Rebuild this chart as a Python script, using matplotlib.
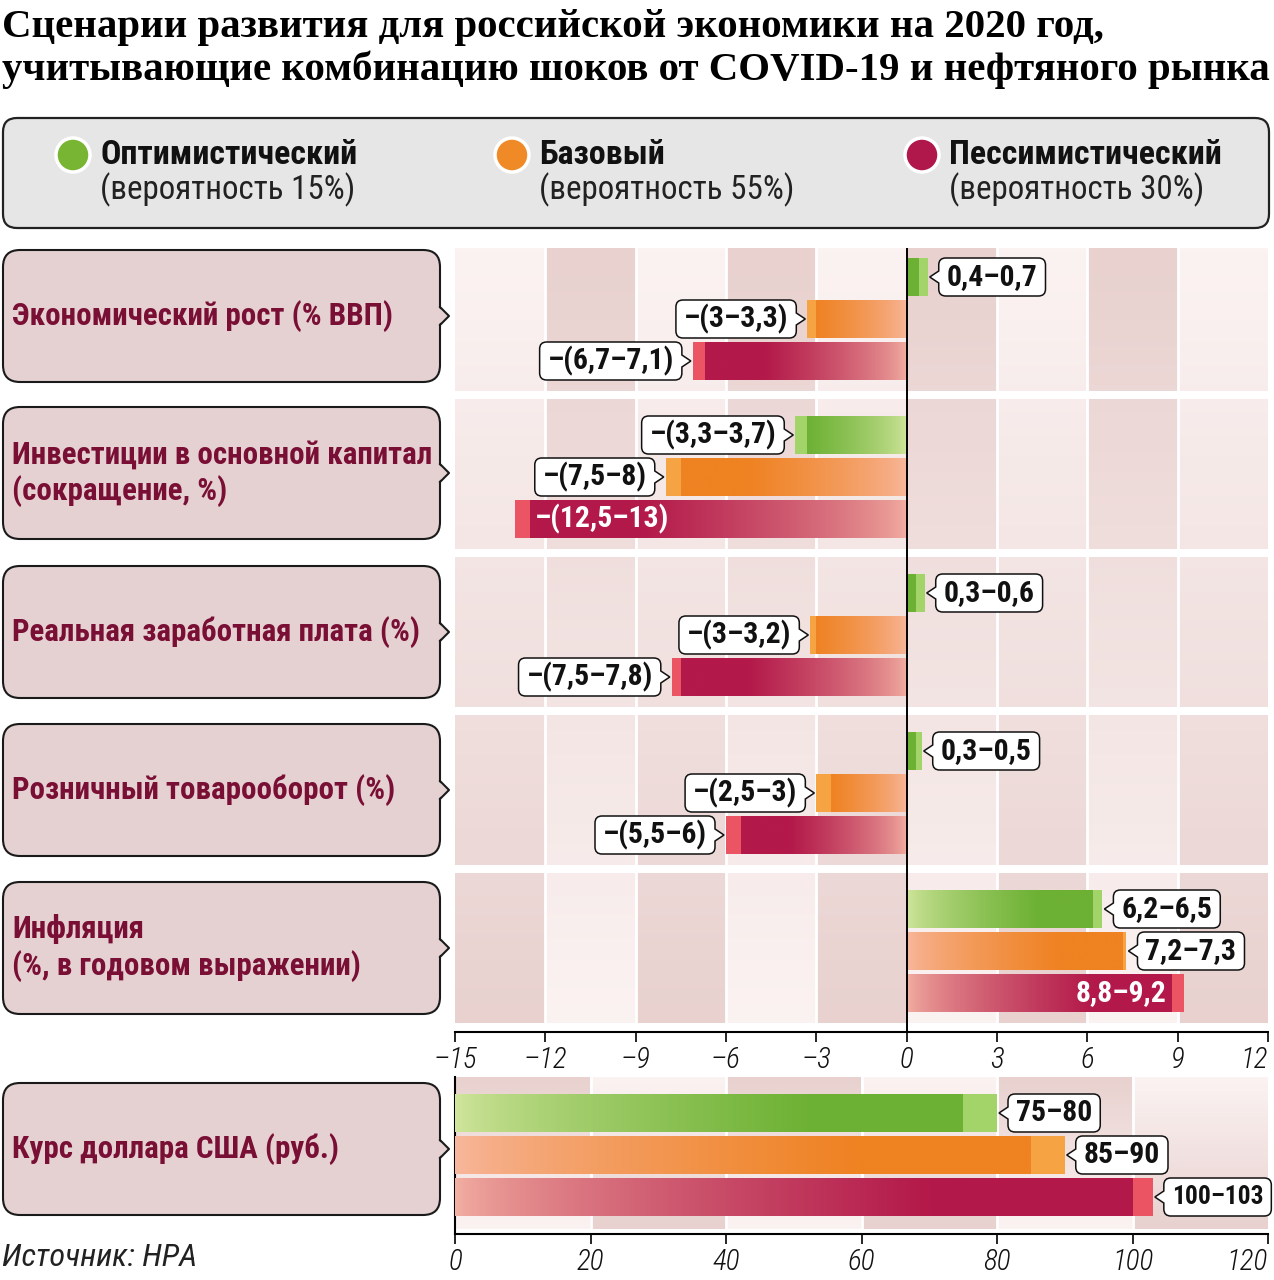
import matplotlib
matplotlib.use("Agg")
import matplotlib.pyplot as plt
import numpy as np
from matplotlib import font_manager as fm
from matplotlib.patches import FancyBboxPatch, Polygon, Circle
from matplotlib.path import Path
from matplotlib.colors import to_rgb, LinearSegmentedColormap

# ---- шрифты: ищем узкий, иначе Roboto ----
names = {f.name for f in fm.fontManager.ttflist}
NARROW, STRETCH = None, "normal"
for c in ["Liberation Sans Narrow", "Roboto Condensed", "Open Sans Condensed",
          "Noto Sans Condensed", "PT Sans Narrow", "Arial Narrow"]:
    if c in names:
        NARROW = c
        break
if NARROW is None:
    for fam in ["Noto Sans", "Roboto", "Open Sans", "DejaVu Sans"]:
        if any(f.name == fam and f.stretch in ("condensed", "semi-condensed")
               for f in fm.fontManager.ttflist):
            NARROW, STRETCH = fam, "condensed"
            break
if NARROW is None:
    NARROW = "Roboto" if "Roboto" in names else "DejaVu Sans"
SERIF = "Liberation Serif" if "Liberation Serif" in names else "DejaVu Serif"

# ---- данные ----
title1 = "Сценарии развития для российской экономики на 2020 год,"
title2 = "учитывающие комбинацию шоков от COVID-19 и нефтяного рынка"
scenarios = ["Оптимистический", "Базовый", "Пессимистический"]
probabilities = ["(вероятность 15%)", "(вероятность 55%)", "(вероятность 30%)"]
categories = ["Экономический рост (% ВВП)",
              "Инвестиции в основной капитал\n(сокращение, %)",
              "Реальная заработная плата (%)",
              "Розничный товарооборот (%)",
              "Инфляция\n(%, в годовом выражении)"]
usd_category = "Курс доллара США (руб.)"

opt_lo = [0.4, -3.3, 0.3, 0.3, 6.2]
opt_hi = [0.7, -3.7, 0.6, 0.5, 6.5]
base_lo = [-3, -7.5, -3, -2.5, 7.2]
base_hi = [-3.3, -8, -3.2, -3, 7.3]
pess_lo = [-6.7, -12.5, -7.5, -5.5, 8.8]
pess_hi = [-7.1, -13, -7.8, -6, 9.2]
opt_labels = ["0,4–0,7", "–(3,3–3,7)", "0,3–0,6", "0,3–0,5", "6,2–6,5"]
base_labels = ["–(3–3,3)", "–(7,5–8)", "–(3–3,2)", "–(2,5–3)", "7,2–7,3"]
pess_labels = ["–(6,7–7,1)", "–(12,5–13)", "–(7,5–7,8)", "–(5,5–6)", "8,8–9,2"]
pess_inside = [False, True, False, False, True]

usd_lo = [75, 85, 100]
usd_hi = [80, 90, 103]
usd_labels = ["75–80", "85–90", "100–103"]

main_ticks = [-15, -12, -9, -6, -3, 0, 3, 6, 9, 12]
usd_ticks = [0, 20, 40, 60, 80, 100, 120]
source = "Источник: НРА"

# ---- оформление ----
W, H = 1274, 1280
light = [to_rgb("#d2e69e"), to_rgb("#f8b89f"), to_rgb("#f3b1a3")]
dark = [to_rgb("#6db134"), to_rgb("#ef8222"), to_rgb("#b3194a")]
tips = ["#a2d46a", "#f6a443", "#eb5563"]
dots = ["#78b532", "#f08a26", "#b0174a"]
bg_cmap = LinearSegmentedColormap.from_list("bgc", ["#fbf3f2", "#e8d1cf"])
maroon = "#7a0f35"
bar_off = [36, 78, 120]
bar_h = 38

fig = plt.figure(figsize=(W / 100, H / 100), dpi=100)
rend = fig.canvas.get_renderer()


def fit(s, target, base=20, **kw):
    # размер шрифта, при котором строка s имеет ширину target пикселей
    t = fig.text(0, 0, s, fontsize=base, **kw)
    w = t.get_window_extent(rend).width
    t.remove()
    return base * target / w


NB = dict(fontfamily=NARROW, fontstretch=STRETCH, fontweight="bold")
NR = dict(fontfamily=NARROW, fontstretch=STRETCH)
TS = fit(title2, 1266, 30, fontfamily=SERIF, fontweight="bold")
CAT = fit("Инвестиции в основной капитал", 420, **NB)
LEGB = fit("Оптимистический", 257, **NB)
LEGR = fit("(вероятность 15%)", 255, **NR)
CAL = fit("–(3–3,3)", 104, **NB)
TICK = min(21, fit("–12", 44, style="italic", **NR))
SRC = fit(source, 195, style="italic", **NR)


def px_axes(z):
    a = fig.add_axes([0, 0, 1, 1], zorder=z)
    a.set_xlim(0, W)
    a.set_ylim(H, 0)
    a.axis("off")
    a.patch.set_alpha(0)
    return a


bg = px_axes(0)

bg.text(2, 27, title1, fontfamily=SERIF, fontweight="bold", fontsize=TS,
        va="center", ha="left")
bg.text(2, 70, title2, fontfamily=SERIF, fontweight="bold", fontsize=TS,
        va="center", ha="left")

# легенда
bg.add_patch(FancyBboxPatch((3, 118), 1266, 110,
                            boxstyle="round,pad=0,rounding_size=14",
                            fc="#e6e6e6", ec="#222222", lw=1.6))
for k, x in enumerate([73, 512, 922]):
    bg.add_patch(Circle((x, 155), 17, fc=dots[k], ec="white", lw=2.5))
    bg.text(x + 27, 155, scenarios[k], fontsize=LEGB, va="center", ha="left",
            color="#111111", **NB)
    bg.text(x + 27, 190, probabilities[k], fontsize=LEGR, va="center",
            ha="left", color="#222222", **NR)

# подписи категорий
box_tops = [250, 407, 566, 724, 882, 1083]
for j, name in enumerate(categories + [usd_category]):
    t0 = box_tops[j]
    yc = t0 + 66
    bg.add_patch(FancyBboxPatch((3, t0), 437, 132,
                                boxstyle="round,pad=0,rounding_size=17",
                                fc="#e5d1d2", ec="#1a1a1a", lw=1.5))
    bg.add_patch(Polygon([(438, yc - 9), (449, yc), (438, yc + 9)],
                         closed=True, fc="#e5d1d2", ec="none"))
    bg.plot([440, 449, 440], [yc - 9, yc, yc + 9], color="#1a1a1a", lw=1.5)
    lines = name.split("\n")
    for n, line in enumerate(lines):
        dy = (n - (len(lines) - 1) / 2) * 37
        bg.text(12, yc + dy, line, fontsize=CAT, color=maroon, va="center",
                ha="left", **NB)

bg.text(2, 1258, source, style="italic", fontsize=SRC, va="center", ha="left",
        color="#222222", **NR)

PADX, TAIL, GAP = 8, 9, 2
callouts = []


def callout_style(side):
    # рамка выноски со скруглёнными углами и хвостиком к столбику
    def style(x0, y0, width, height, mutation_size):
        cy = y0 + height / 2
        hh = bar_h / 2
        a, b = x0 - PADX, x0 + width + PADX
        lo, hi = cy - hh, cy + hh
        r = 7
        v, c = [], []

        def mv(p):
            v.append(p)
            c.append(Path.MOVETO)

        def ln(p):
            v.append(p)
            c.append(Path.LINETO)

        def q(p1, p2):
            v.extend([p1, p2])
            c.extend([Path.CURVE3, Path.CURVE3])

        mv((a + r, lo))
        ln((b - r, lo))
        q((b, lo), (b, lo + r))
        if side > 0:
            ln((b, cy - 6))
            ln((b + TAIL, cy))
            ln((b, cy + 6))
        ln((b, hi - r))
        q((b, hi), (b - r, hi))
        ln((a + r, hi))
        q((a, hi), (a, hi - r))
        if side < 0:
            ln((a, cy + 6))
            ln((a - TAIL, cy))
            ln((a, cy - 6))
        ln((a, lo + r))
        q((a, lo), (a + r, lo))
        v.append((a + r, lo))
        c.append(Path.CLOSEPOLY)
        return Path(v, c)
    return style


def grad_bar(ax, lo, hi, yc, k, scale):
    L = abs(lo)
    n = 300
    u = np.linspace(0, 1, n)
    if L * scale >= 1.0:
        fade = 0.7 if L * scale >= 4 else 1.0
        f = np.clip(u / fade, 0, 1) ** 0.7
    else:
        f = np.ones(n)
    cols = np.array(light[k])[None, :] + (np.array(dark[k]) - np.array(light[k]))[None, :] * f[:, None]
    if lo < 0:
        cols = cols[::-1]
        ext = (lo, 0, yc + bar_h / 2, yc - bar_h / 2)
    else:
        ext = (0, lo, yc + bar_h / 2, yc - bar_h / 2)
    ax.imshow(cols[None, :, :], extent=ext, aspect="auto",
              interpolation="bilinear", zorder=3)
    ax.barh(yc, hi - lo, left=lo, height=bar_h, color=tips[k], zorder=3,
            linewidth=0)


def callout(ax, x, yc, text, side):
    # side=+1: рамка слева от конца столбика, хвостик вправо
    t = ax.annotate(text, xy=(x, yc), xytext=(-(GAP + TAIL + PADX) * side, 0),
                    textcoords="offset pixels", va="center",
                    ha="right" if side > 0 else "left",
                    fontsize=CAL, color="#111111", zorder=6,
                    bbox=dict(boxstyle=callout_style(side), fc="white",
                              ec="#111111", lw=1.1), **NB)
    callouts.append((t, ax, x, side))


def inside(ax, x, yc, text, side):
    # side=+1: текст правее начала кончика (отрицательный столбик)
    ax.annotate(text, xy=(x, yc), xytext=(5 * side, 0),
                textcoords="offset pixels", va="center",
                ha="left" if side > 0 else "right",
                fontsize=CAL, color="white", zorder=6, **NB)


def shade(ax, x0, x1, y0, y1, ncol, odd_dark_top):
    s = np.linspace(0, 1, 200)[:, None]
    c = np.arange(ncol)[None, :]
    d = np.where((c % 2 == 1) == odd_dark_top, 1 - s, s)
    ax.imshow(d, extent=(x0, x1, y1, y0), cmap=bg_cmap, vmin=0, vmax=1,
              aspect="auto", interpolation="nearest", zorder=0)


def style_axis(ax, ticks, labels):
    for sp in ["top", "right", "left"]:
        ax.spines[sp].set_visible(False)
    ax.spines["bottom"].set_linewidth(1.5)
    ax.set_xticks(ticks)
    ax.set_xticklabels(labels)
    ax.set_yticks([])
    ax.tick_params(axis="x", length=7, width=1.2, pad=3)
    labs = ax.get_xticklabels()
    for lab in labs:
        lab.set_fontfamily(NARROW)
        lab.set_fontstretch(STRETCH)
        lab.set_fontweight("light")
        lab.set_style("italic")
        lab.set_fontsize(TICK)
        lab.set_color("#111111")
    labs[-1].set_horizontalalignment("right")


# ---- основная панель ----
ax = fig.add_axes([455 / W, 1 - 1032 / H, 813 / W, 784 / H], zorder=1)
shade(ax, -15, 12, 248, 1032, 9, True)
group_tops = [241 + 158 * i for i in range(5)]
for i in range(4):
    ax.axhspan(group_tops[i] + 150, group_tops[i + 1], color="white", zorder=0.5, lw=0)
ax.axhspan(group_tops[4] + 150, 1032, color="white", zorder=0.5, lw=0)
for t in main_ticks[1:-1]:
    if t != 0:
        ax.axvline(t, color="white", lw=2, zorder=0.6)
ax.axvline(0, color="black", lw=1.4, zorder=4)

series = [(opt_lo, opt_hi, opt_labels), (base_lo, base_hi, base_labels),
          (pess_lo, pess_hi, pess_labels)]
for i in range(5):
    for k, (lo, hi, lab) in enumerate(series):
        yc = group_tops[i] + bar_off[k]
        grad_bar(ax, lo[i], hi[i], yc, k, 1.0)
        side = 1 if hi[i] < 0 else -1
        if k == 2 and pess_inside[i]:
            inside(ax, lo[i], yc, lab[i], side)
        else:
            callout(ax, hi[i], yc, lab[i], side)

ax.set_xlim(-15, 12)
ax.set_ylim(1032, 248)
style_axis(ax, main_ticks, [str(t).replace("-", "–") for t in main_ticks])

# ---- курс доллара ----
ax2 = fig.add_axes([455 / W, 1 - 1234 / H, 813 / W, 157 / H], zorder=1)
shade(ax2, 0, 120, 1077, 1229, 6, False)
ax2.axhspan(1229, 1234, color="white", zorder=0.5, lw=0)
for t in usd_ticks[1:-1]:
    ax2.axvline(t, color="white", lw=2, zorder=0.6)
for k in range(3):
    yc = 1077 + bar_off[k]
    grad_bar(ax2, usd_lo[k], usd_hi[k], yc, k, 0.225)
    callout(ax2, usd_hi[k], yc, usd_labels[k], -1)
ax2.set_xlim(0, 120)
ax2.set_ylim(1234, 1077)
style_axis(ax2, usd_ticks, [str(t) for t in usd_ticks])
ax2.spines["left"].set_visible(True)
ax2.spines["left"].set_linewidth(1.5)

# выноски, не влезающие в правый край, чуть уменьшаем
fig.canvas.draw()
for t, a, x, side in callouts:
    if side < 0:
        x_px = a.transData.transform((x, 0))[0]
        avail = W - 3 - (x_px + GAP + TAIL + 2 * PADX)
        w = t.get_window_extent(rend).width
        if w > avail:
            t.set_fontsize(t.get_fontsize() * avail / w)

fig.savefig("out.png", dpi=100)
